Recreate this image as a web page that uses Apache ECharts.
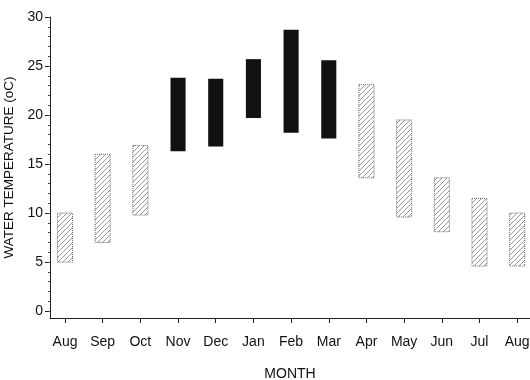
<!DOCTYPE html>
<html>
<head>
<meta charset="utf-8">
<script src="https://cdn.jsdelivr.net/npm/echarts@6/dist/echarts.min.js"></script>
<style>html,body{margin:0;padding:0;background:#fff}#c{width:530px;height:380px}</style>
</head>
<body>
<div id="c"></div>
<script>
// Month categories (x axis tick labels)
const months = ['Aug','Sep','Oct','Nov','Dec','Jan','Feb','Mar','Apr','May','Jun','Jul','Aug'];
// Lower and upper water temperature of each range bar (oC)
const lows  = [5.0, 7.0, 9.8, 16.3, 16.8, 19.7, 18.2, 17.6, 13.6, 9.6, 8.1, 4.6, 4.6];
const highs = [10.0, 16.0, 16.9, 23.8, 23.7, 25.7, 28.7, 25.6, 23.1, 19.5, 13.6, 11.5, 10.0];
// Solid (black) bars vs hatched bars
const solid = [false, false, false, true, true, true, true, true, false, false, false, false, false];
// Y tick labels
const yMajor = [0, 5, 10, 15, 20, 25, 30];
const yMinor = [];
for (let v = 0; v <= 30; v++) yMinor.push(v);
const xTicks = months.map((m, i) => i);

// hatch pattern
const P = 5;
const pc = document.createElement('canvas');
pc.width = P; pc.height = P;
const g = pc.getContext('2d');
g.fillStyle = '#ffffff'; g.fillRect(0, 0, P, P);
g.strokeStyle = '#8c8c8c'; g.lineWidth = 0.9;
g.beginPath();
g.moveTo(-1, P + 1); g.lineTo(P + 1, -1);
g.moveTo(-1, 1); g.lineTo(1, -1);
g.moveTo(P - 1, P + 1); g.lineTo(P + 1, P - 1);
g.stroke();
const hatch = { image: pc, repeat: 'repeat' };

const data = months.map((m, i) => [i, lows[i], highs[i], solid[i] ? 1 : 0]);

const chart = echarts.init(document.getElementById('c'), null, { renderer: 'canvas' });
const font = 'Liberation Sans, Arial, Helvetica, sans-serif';
chart.setOption({
  animation: false,
  grid: { left: 50, right: 0, top: 17, bottom: 62, containLabel: false, outerBoundsMode: 'none' },
  xAxis: {
    type: 'value', min: -0.398, max: 12.34,
    name: 'MONTH', nameLocation: 'middle', nameGap: 49,
    nameTextStyle: { color: '#111', fontSize: 14, fontFamily: font },
    axisLine: { show: true, onZero: false, lineStyle: { color: '#222', width: 1 } },
    axisTick: { show: true, length: 5, inside: false, customValues: xTicks, lineStyle: { color: '#222' } },
    axisLabel: { customValues: xTicks, formatter: v => months[Math.round(v)], color: '#111', fontSize: 14, fontFamily: font, margin: 17 },
    splitLine: { show: false }
  },
  yAxis: [{
    type: 'value', min: -0.7, max: 30,
    name: 'WATER TEMPERATURE (oC)', nameLocation: 'middle', nameGap: 30,
    nameTextStyle: { color: '#111', fontSize: 13.5, fontFamily: font },
    axisLine: { show: true, onZero: false, lineStyle: { color: '#222', width: 1 } },
    axisTick: { show: true, length: 5, customValues: yMajor, lineStyle: { color: '#222' } },
    axisLabel: { customValues: yMajor, color: '#111', fontSize: 14, fontFamily: font, margin: 7 },
    splitLine: { show: false }
  }, {
    type: 'value', min: -0.7, max: 30, position: 'left',
    axisLine: { show: false, onZero: false },
    axisTick: { show: true, length: 2, customValues: yMinor, lineStyle: { color: '#444' } },
    axisLabel: { show: false, customValues: yMinor },
    splitLine: { show: false }
  }],
  series: [{
    type: 'custom',
    data: data,
    encode: { x: 0, y: [1, 2] },
    renderItem: function (params, api) {
      const x = api.value(0), lo = api.value(1), hi = api.value(2), s = api.value(3);
      const pTop = api.coord([x, hi]);
      const pBot = api.coord([x, lo]);
      const w = api.size([0.4, 0])[0];
      return {
        type: 'rect',
        shape: { x: pTop[0] - w / 2, y: pTop[1], width: w, height: pBot[1] - pTop[1] },
        style: s ? { fill: '#111' } : { fill: hatch, stroke: '#666', lineWidth: 1, lineDash: [1, 1] }
      };
    }
  }]
});
</script>
</body>
</html>
